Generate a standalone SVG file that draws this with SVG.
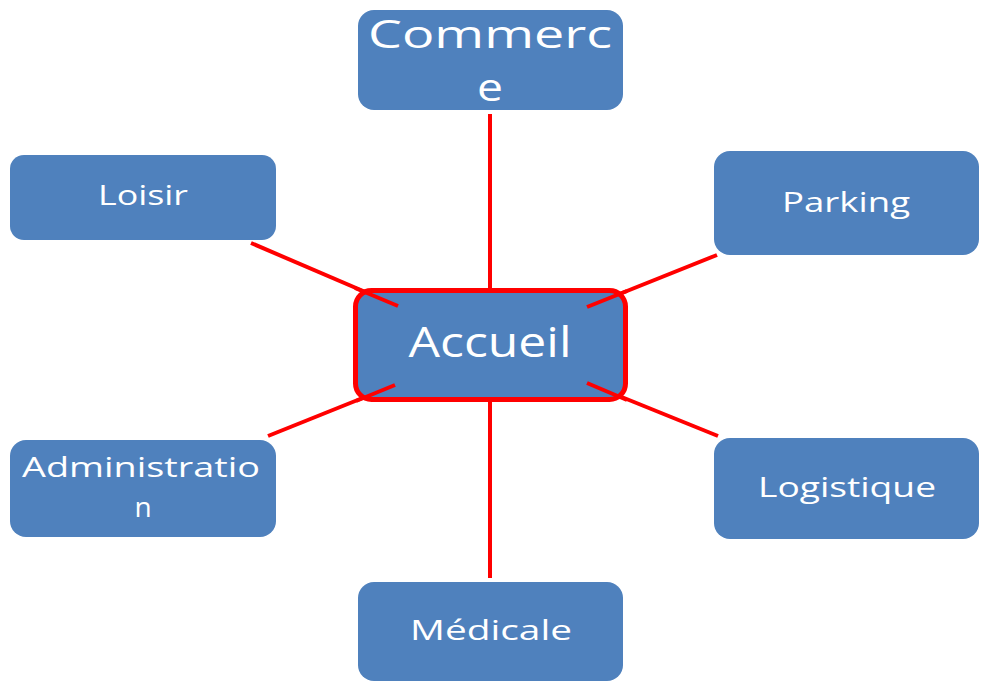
<svg xmlns="http://www.w3.org/2000/svg" width="990" height="682" viewBox="0 0 990 682">
<style>
.box{fill:#4F81BD;}
.t{fill:#fff;font-family:"Open Sans","Noto Sans",sans-serif;text-anchor:middle;}
.c{stroke:#FF0000;stroke-width:4;fill:none;}
</style>
<rect width="990" height="682" fill="#fff"/>
<g id="connectors">
<line class="c" x1="490" y1="114" x2="490" y2="290"/>
<line class="c" x1="490" y1="400" x2="490" y2="578"/>
<line class="c" x1="251" y1="243" x2="398" y2="306"/>
<line class="c" x1="717" y1="255" x2="587" y2="307"/>
<line class="c" x1="268" y1="436" x2="395" y2="385"/>
<line class="c" x1="718" y1="436" x2="587" y2="383"/>
</g>
<g id="commerce">
<rect class="box" x="358" y="10" width="265" height="100" rx="16"/>
<text class="t" x="490" y="48" font-size="38" textLength="244" lengthAdjust="spacingAndGlyphs">Commerc</text>
<text class="t" x="490" y="101" font-size="38" textLength="26" lengthAdjust="spacingAndGlyphs">e</text>
</g>
<g id="loisir">
<rect class="box" x="10" y="155" width="266" height="85" rx="14"/>
<text class="t" x="143" y="205" font-size="28" textLength="90" lengthAdjust="spacingAndGlyphs">Loisir</text>
</g>
<g id="parking">
<rect class="box" x="714" y="151" width="265" height="104" rx="16"/>
<text class="t" x="846" y="212" font-size="28" textLength="128" lengthAdjust="spacingAndGlyphs">Parking</text>
</g>
<g id="administration">
<rect class="box" x="10" y="440" width="266" height="97" rx="16"/>
<text class="t" x="141" y="477" font-size="28" textLength="238" lengthAdjust="spacingAndGlyphs">Administratio</text>
<text class="t" x="143" y="517" font-size="28">n</text>
</g>
<g id="logistique">
<rect class="box" x="714" y="438" width="265" height="101" rx="16"/>
<text class="t" x="847" y="497" font-size="28" textLength="178" lengthAdjust="spacingAndGlyphs">Logistique</text>
</g>
<g id="medicale">
<rect class="box" x="358" y="582" width="265" height="99" rx="16"/>
<text class="t" x="491" y="640" font-size="28" textLength="162" lengthAdjust="spacingAndGlyphs">Médicale</text>
</g>
<g id="accueil">
<rect x="355.5" y="290.5" width="270" height="109" rx="16" fill="#4F81BD" stroke="#FF0000" stroke-width="5"/>
<text class="t" x="490" y="357" font-size="42" textLength="163" lengthAdjust="spacingAndGlyphs">Accueil</text>
</g>
<g id="accueil-spokes">
<line class="c" x1="355" y1="288" x2="398" y2="306"/>
<line class="c" x1="627" y1="291" x2="587" y2="307"/>
<line class="c" x1="356" y1="401" x2="395" y2="385"/>
<line class="c" x1="627" y1="400" x2="587" y2="383"/>
</g>
</svg>
